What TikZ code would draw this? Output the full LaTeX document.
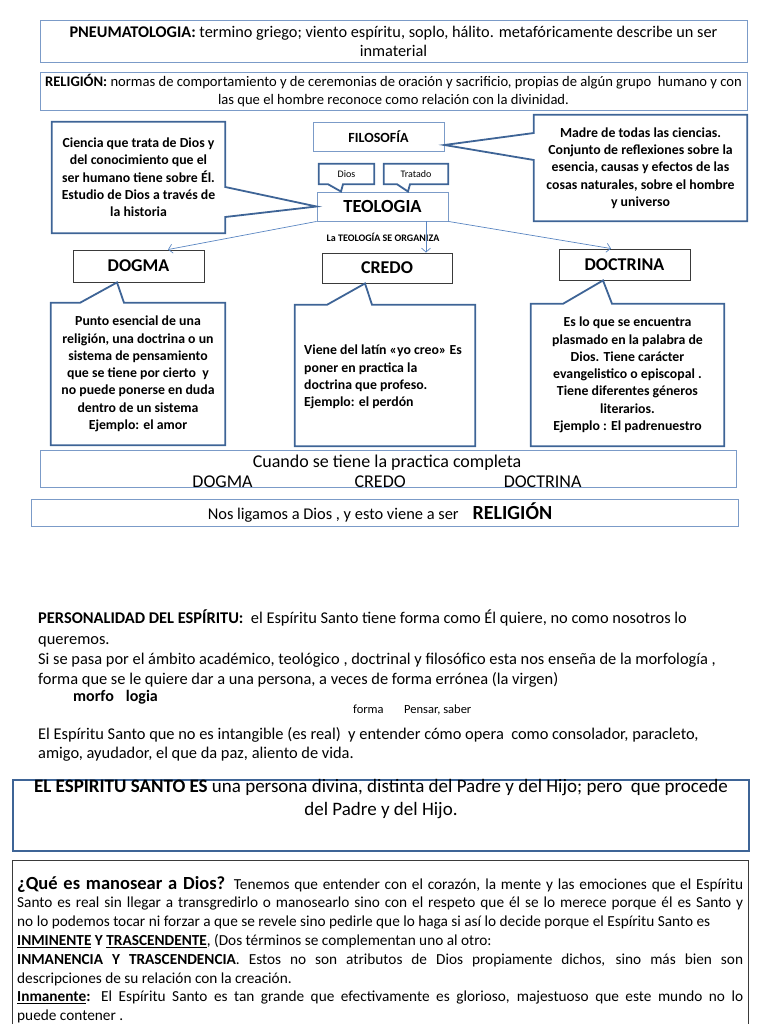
\documentclass[tikz,border=0pt]{standalone}
\usepackage{fontspec}
\setmainfont{Carlito}
\usetikzlibrary{arrows.meta}
\definecolor{boxblue}{HTML}{7B9BC8}
\definecolor{callblue}{HTML}{3E6496}
\definecolor{arrowblue}{HTML}{5A86C2}
\definecolor{boxgray}{HTML}{3A3A3A}

\begin{document}
\begin{tikzpicture}[x=1pt, y=-1pt,
    lightbox/.style={draw=boxblue, line width=0.9pt, inner sep=0pt},
    blackbox/.style={draw=boxgray, line width=0.9pt, inner sep=0pt, font=\bfseries\fontsize{18}{20}\selectfont},
    calltxt/.style={inner sep=0pt, align=center, font=\bfseries\fontsize{13.8}{17.3}\selectfont},
    smallcall/.style={inner sep=0pt, font=\fontsize{10}{12}\selectfont},
    callline/.style={draw=callblue, line width=1.8pt, line join=miter},
    link/.style={draw=arrowblue, line width=0.7pt, -{Straight Barb[length=4pt,width=9pt]}}]

    \useasboundingbox (0,0) rectangle (768,1024);

    \node[lightbox, minimum width=707, minimum height=42, align=center, font=\fontsize{16.3}{19}\selectfont] (pneuma) at (393.5,41) {\textbf{PNEUMATOLOGIA:} termino griego; viento espíritu, soplo, hálito. metafóricamente describe un ser\\inmaterial};
    \node[lightbox, minimum width=707, minimum height=38, align=center, font=\fontsize{14.6}{18}\selectfont] (religion) at (393.5,91) {\textbf{RELIGIÓN:} normas de comportamiento y de ceremonias de oración y sacrificio, propias de algún grupo\ \ humano y con\\las que el hombre reconoce como relación con la divinidad.};

    \node[lightbox, minimum width=131, minimum height=29, font=\bfseries\fontsize{14}{16}\selectfont] (filosofia) at (378.5,136.5) {FILOSOFÍA};
    \node[lightbox, minimum width=131, minimum height=29, font=\bfseries\fontsize{18.5}{20}\selectfont] (teologia) at (382.5,206.5) {TEOLOGIA};
    \node[inner sep=0pt, font=\bfseries\fontsize{10}{11}\selectfont] (organiza) at (383,237) {La TEOLOGÍA SE ORGANIZA};

    \node[smallcall, minimum width=55, minimum height=20] (dios) at (346.5,174) {Dios};
    \node[smallcall, minimum width=64, minimum height=20] (tratado) at (416,174) {Tratado};

    \node[blackbox, minimum width=131, minimum height=32] (dogma) at (138.5,266) {DOGMA};
    \node[blackbox, minimum width=130, minimum height=30] (credo) at (387,268) {CREDO};
    \node[blackbox, minimum width=131, minimum height=31] (doctrina) at (624.5,264.5) {DOCTRINA};

    \node[calltxt, minimum width=173, minimum height=111] (ciencia) at (138.5,177.5) {Ciencia que trata de Dios y\\del conocimiento que el\\ser humano tiene sobre Él.\\Estudio de Dios a través de\\la historia};
    \node[calltxt, minimum width=213, minimum height=106] (madre) at (640.5,168) {Madre de todas las ciencias.\\Conjunto de reflexiones sobre la\\esencia, causas y efectos de las\\cosas naturales, sobre el hombre\\y universo};
    \node[calltxt, minimum width=174, minimum height=142] (punto) at (138,374) {Punto esencial de una\\religión, una doctrina o un\\sistema de pensamiento\\que se tiene por cierto\ \ y\\no puede ponerse en duda\\dentro de un sistema\\Ejemplo: el amor};
    \node[calltxt, minimum width=180, minimum height=141] (viene) at (385,375.5) {};
    \node[calltxt, anchor=west, align=left] (vienetxt) at (304,377) {Viene del latín «yo creo» Es\\poner en practica la\\doctrina que profeso.\\Ejemplo: el perdón};
    \node[calltxt, minimum width=193, minimum height=142] (eslo) at (627.5,375) {Es lo que se encuentra\\plasmado en la palabra de\\Dios. Tiene carácter\\evangelistico o episcopal .\\Tiene diferentes géneros\\literarios.\\Ejemplo : El padrenuestro};

    \draw[callline] (ciencia.north west) -- (ciencia.north east) -- ([yshift=-9.5pt]ciencia.east) -- (teologia.west) -- ([yshift=-39.5pt]ciencia.east) -- (ciencia.south east) -- (ciencia.south west) -- cycle;
    \draw[callline] (madre.north west) -- ([yshift=35pt]madre.west) -- ([yshift=-8.5pt]filosofia.east) -- ([yshift=8pt]madre.west) -- (madre.south west) -- (madre.south east) -- (madre.north east) -- cycle;
    \draw[callline] (dios.north west) -- (dios.north east) -- (dios.south east) -- ([xshift=-3.5pt]dios.south) -- ([xshift=-41.5pt]teologia.north) -- ([xshift=-18.5pt]dios.south) -- (dios.south west) -- cycle;
    \draw[callline] (tratado.north west) -- (tratado.north east) -- (tratado.south east) -- ([xshift=-6pt]tratado.south) -- ([xshift=25.5pt]teologia.north) -- ([xshift=-19pt]tratado.south) -- (tratado.south west) -- cycle;
    \draw[callline] (punto.north west) -- ([xshift=-58pt]punto.north) -- ([xshift=-21.5pt]dogma.south) -- ([xshift=-14pt]punto.north) -- (punto.north east) -- (punto.south east) -- (punto.south west) -- cycle;
    \draw[callline] (viene.north west) -- ([xshift=-58pt]viene.north) -- ([xshift=-22pt]credo.south) -- ([xshift=-13pt]viene.north) -- (viene.north east) -- (viene.south east) -- (viene.south west) -- cycle;
    \draw[callline] (eslo.north west) -- ([xshift=-64.5pt]eslo.north) -- ([xshift=-21.5pt]doctrina.south) -- ([xshift=-15.5pt]eslo.north) -- (eslo.north east) -- (eslo.south east) -- (eslo.south west) -- cycle;

    \draw[link] (teologia.south west) -- ([xshift=29.5pt]dogma.north);
    \draw[link] ([xshift=43.5pt]teologia.south) -- ([xshift=39pt]credo.north);
    \draw[link] (teologia.south east) -- ([xshift=-13.5pt]doctrina.north);

    \node[lightbox, minimum width=696, minimum height=37] (cuando) at (388,468.5) {};
    \node[inner sep=0pt, align=center, font=\fontsize{18}{20}\selectfont] (cuandotxt) at (387,471) {Cuando se tiene la practica completa\\DOGMA\hspace{102pt}CREDO\hspace{98pt}DOCTRINA};
    \node[lightbox, minimum width=707, minimum height=27] (ligamos) at (384.5,512.5) {};
    \node[inner sep=0pt, font=\fontsize{16.4}{18}\selectfont] (ligamostxt) at (380,513) {Nos ligamos a Dios , y esto viene a ser\hspace{14pt}{\bfseries\fontsize{20}{22}\selectfont RELIGIÓN}};

    \node[anchor=north west, inner sep=0pt, align=left, font=\fontsize{16.4}{20.2}\selectfont] (personalidad) at (38,610) {\textbf{PERSONALIDAD DEL ESPÍRITU:}\ \ el Espíritu Santo tiene forma como Él quiere, no como nosotros lo\\queremos.\\Si se pasa por el ámbito académico, teológico , doctrinal y filosófico esta nos enseña de la morfología ,\\forma que se le quiere dar a una persona, a veces de forma errónea (la virgen)};
    \node[anchor=west, inner sep=0pt, font=\bfseries\fontsize{16}{18}\selectfont] (morfo) at (73,697) {morfo\hspace{12pt}logia};
    \node[anchor=base west, inner sep=0pt, font=\fontsize{12.5}{14}\selectfont] (forma) at (353,713) {forma};
    \node[anchor=base west, inner sep=0pt, font=\fontsize{12.5}{14}\selectfont] (pensar) at (404,713) {Pensar, saber};
    \node[anchor=north west, inner sep=0pt, align=left, font=\fontsize{16.4}{19}\selectfont] (opera) at (38,727) {El Espíritu Santo que no es intangible (es real)\ \ y entender cómo opera\ \ como consolador, paracleto,\\amigo, ayudador, el que da paz, aliento de vida.};

    \node[draw=callblue, line width=1.8pt, inner sep=0pt, minimum width=736, minimum height=71] (espiritu) at (381,815.5) {};
    \node[anchor=north, inner sep=0pt, align=center, font=\fontsize{19}{23}\selectfont] (espiritutxt) at (381,779.5) {\textbf{EL ESPIRITU SANTO ES} una persona divina, distinta del Padre y del Hijo; pero\ \ que procede\\del Padre y del Hijo.};

    \node[draw=boxgray, line width=1pt, inner sep=0pt, minimum width=736, minimum height=190, anchor=north west] (manosear) at (12,860) {};
    \node[anchor=north west, inner sep=0pt, text width=726pt, align=justify, font=\fontsize{15.3}{18.8}\selectfont] (manoseartxt) at (17,876) {{\bfseries\fontsize{18.5}{20}\selectfont ¿Qué es manosear a Dios?} Tenemos que entender con el corazón, la mente y las emociones que el Espíritu\linebreak Santo es real sin llegar a transgredirlo o manosearlo sino con el respeto que él se lo merece porque él es Santo y\linebreak no lo podemos tocar ni forzar a que se revele sino pedirle que lo haga si así lo decide porque el Espíritu Santo es\\\textbf{\underline{INMINENTE} Y \underline{TRASCENDENTE}}, (Dos términos se complementan uno al otro:\\\textbf{INMANENCIA Y TRASCENDENCIA}. Estos no son atributos de Dios propiamente dichos, sino más bien son\linebreak descripciones de su relación con la creación.\\\textbf{\underline{Inmanente}:} El Espíritu Santo es tan grande que efectivamente es glorioso, majestuoso que este mundo no lo\linebreak puede contener .};
  \end{tikzpicture}
\end{document}
